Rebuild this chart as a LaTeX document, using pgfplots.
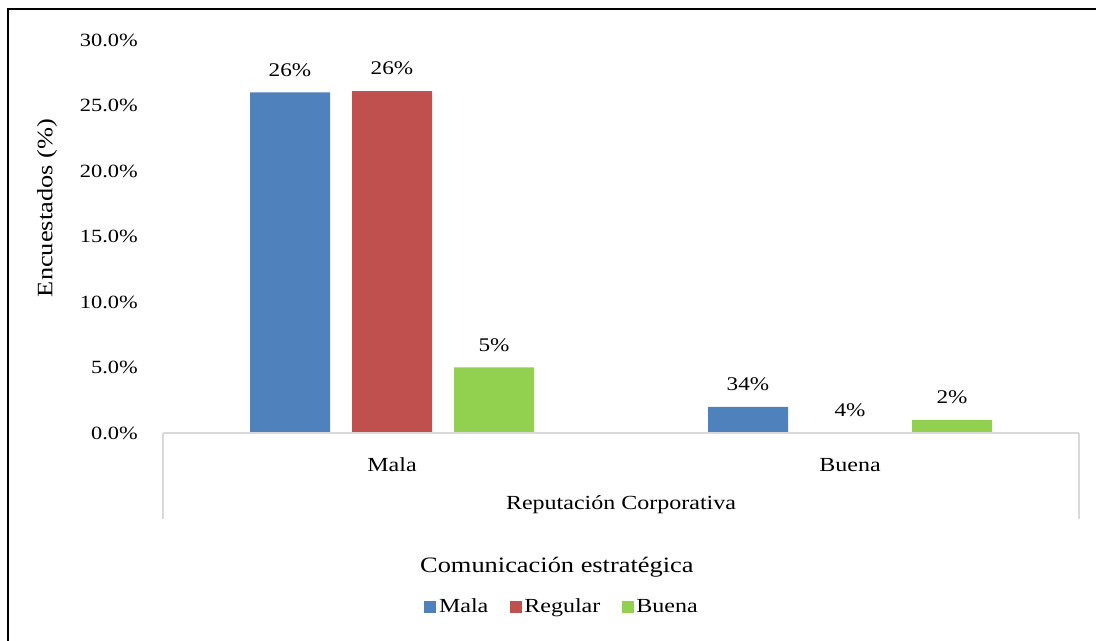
\documentclass[border=0pt]{standalone}
\usepackage{fontspec}
\setmainfont[FakeStretch=1.2]{Liberation Serif}
\usepackage{pgfplots}
\pgfplotsset{compat=1.18}
\definecolor{cblue}{HTML}{4F81BD}
\definecolor{cred}{HTML}{C0504D}
\definecolor{cgreen}{HTML}{92D050}
\definecolor{lgray}{HTML}{D9D9D9}
\begin{document}
\begin{tikzpicture}[font=\fontsize{14}{16}\selectfont]
\useasboundingbox (0,0) rectangle (822pt,480.75pt);
\draw[black, line width=1.5pt] (6pt,-5pt) -- (6pt,474pt) -- (830pt,474pt);
\node[rotate=90, font=\fontsize{16.5}{19}\selectfont] at (35.25pt,324.75pt) {Encuestados (\%)};
\begin{axis}[
  at={(122.25pt,156pt)}, anchor=south west,
  scale only axis, width=687pt, height=294.75pt,
  ybar=16.5pt, bar width=60pt,
  xmin=-0.5, xmax=1.5, ymin=0, ymax=30,
  xtick={0,1}, xticklabels={Mala,Buena},
  ytick={0,5,10,15,20,25,30},
  /pgf/number format/assume math mode=true,
  yticklabel={\pgfmathprintnumber[fixed,fixed zerofill,precision=1]{\tick}\%},
  tick label style={font=\fontsize{14}{16}\selectfont},
  yticklabel style={anchor=east, inner sep=0pt, xshift=-18.75pt},
  xticklabel style={anchor=center, inner sep=0pt, yshift=-24pt, font=\fontsize{15}{17}\selectfont},
  major tick length=0pt,
  axis x line=bottom, axis y line=left,
  y axis line style={draw=none},
  x axis line style={draw=lgray, line width=1.1pt, -},
  axis on top,
  clip=false,
  point meta=explicit symbolic,
  nodes near coords,
  every node near coord/.append style={anchor=center, yshift=17pt, font=\fontsize{14.5}{16}\selectfont, text=black},
  legend columns=3,
  legend style={draw=none, fill=none, at={(rel axis cs:0.436,-0.4427)}, anchor=center,
    font=\fontsize{15}{17}\selectfont,
    /tikz/every even column/.append style={column sep=14pt}},
  legend image code/.code={\fill[#1] (0pt,-4.5pt) rectangle (9pt,4.5pt);},
]
\addplot[fill=cblue, draw=none] coordinates {(0,26) [26\%] (1,2) [34\%]};
\addplot[fill=cred, draw=none] coordinates {(0,26.1) [26\%] (1,0) [4\%]};
\addplot[fill=cgreen, draw=none] coordinates {(0,5) [5\%] (1,1) [2\%]};
\legend{Mala,Regular,Buena}
\draw[lgray, line width=1.1pt] (rel axis cs:0,0) -- ([yshift=-64.5pt]rel axis cs:0,0);
\draw[lgray, line width=1.1pt] (rel axis cs:1,0) -- ([yshift=-64.5pt]rel axis cs:1,0);
\node[font=\fontsize{15}{17}\selectfont] at ([yshift=-54pt]rel axis cs:0.5,0) {Reputación Corporativa};
\node[font=\fontsize{16.5}{19}\selectfont] at (rel axis cs:0.430,-0.341) {Comunicación estratégica};
\end{axis}
\end{tikzpicture}
\end{document}
